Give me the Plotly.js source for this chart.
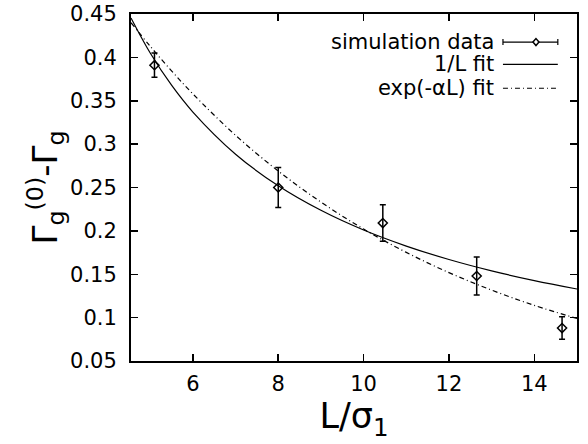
<!DOCTYPE html>
<html>
<head>
<meta charset="utf-8">
<script src="https://cdn.plot.ly/plotly-3.0.1.min.js"></script>
<style>html,body{margin:0;padding:0;background:#fff;}#chart{width:588px;height:444px;}</style>
</head>
<body>
<div id="chart"></div>
<script>
// Simulation data
const L_data = [5.1, 8.0, 10.45, 12.65, 14.65];
const gamma_data = [0.391, 0.250, 0.209, 0.148, 0.088];
const gamma_err = [0.014, 0.023, 0.021, 0.022, 0.013];

// Fit curves
const L_fit = [4.55, 5, 5.5, 6, 7, 8, 9, 10, 11, 12, 13, 14, 15];
const fit_invL = [0.4454, 0.405, 0.3679, 0.337, 0.2884, 0.252, 0.2237, 0.201, 0.1825, 0.167, 0.1539, 0.1427, 0.133];
const fit_exp = [0.440, 0.4128, 0.3844, 0.3579, 0.3102, 0.269, 0.2332, 0.2021, 0.1752, 0.1519, 0.1317, 0.1141, 0.0990];

const legendNames = ['simulation data', '1/L fit', 'exp(-\u03b1L) fit'];
const xTitle = 'L/\u03c3<sub>1</sub>';
const yTitle = '\u0393<sub>g</sub><sup>(0)</sup>-\u0393<sub>g</sub>';

const FONT = 'DejaVu Sans, Liberation Sans, sans-serif';
const DASHDOT = '5px,3px,1px,3px';

const traces = [
  {
    x: L_fit, y: fit_invL, mode: 'lines', type: 'scatter', name: legendNames[1],
    line: {color: '#000', width: 1.2, shape: 'spline'}, showlegend: false
  },
  {
    x: L_fit, y: fit_exp, mode: 'lines', type: 'scatter', name: legendNames[2],
    line: {color: '#000', width: 1.2, dash: DASHDOT, shape: 'spline'}, showlegend: false
  },
  {
    x: L_data, y: gamma_data, mode: 'markers', type: 'scatter', name: legendNames[0],
    marker: {symbol: 'diamond-open', size: 7, color: '#000', line: {width: 1.5, color: '#000'}},
    error_y: {type: 'data', array: gamma_err, visible: true, color: '#000', thickness: 1.5, width: 3},
    showlegend: false
  }
];

// custom legend (text right, sample to the right, like gnuplot)
const legY = [0.919, 0.855, 0.786];
const textX = 0.818, s0 = 0.834, s1 = 0.957, dmx = 0.908;
const annotations = legendNames.map((n, i) => ({
  xref: 'paper', yref: 'paper', x: textX, y: legY[i], xanchor: 'right', yanchor: 'middle',
  text: n, showarrow: false, font: {family: FONT, size: 21, color: '#000'}
}));
const dx = 3 / 446, dy = 3.5 / 347.5, cap = 3 / 347.5;
const shapes = [
  {type: 'line', xref: 'paper', yref: 'paper', x0: s0, x1: s1, y0: legY[0], y1: legY[0], line: {color: '#000', width: 1.2}},
  {type: 'line', xref: 'paper', yref: 'paper', x0: s0, x1: s0, y0: legY[0] - cap, y1: legY[0] + cap, line: {color: '#000', width: 1.2}},
  {type: 'line', xref: 'paper', yref: 'paper', x0: s1, x1: s1, y0: legY[0] - cap, y1: legY[0] + cap, line: {color: '#000', width: 1.2}},
  {type: 'path', xref: 'paper', yref: 'paper',
   path: `M ${dmx - dx} ${legY[0]} L ${dmx} ${legY[0] + dy} L ${dmx + dx} ${legY[0]} L ${dmx} ${legY[0] - dy} Z`,
   fillcolor: '#fff', line: {color: '#000', width: 1.5}},
  {type: 'line', xref: 'paper', yref: 'paper', x0: s0, x1: s1, y0: legY[1], y1: legY[1], line: {color: '#000', width: 1.2}},
  {type: 'line', xref: 'paper', yref: 'paper', x0: s0, x1: s1, y0: legY[2], y1: legY[2], line: {color: '#000', width: 1.2, dash: DASHDOT}}
];

const axisCommon = {
  showgrid: false, zeroline: false, showline: true, linecolor: '#000', linewidth: 2,
  mirror: 'ticks', ticks: 'inside', ticklen: 7, tickwidth: 1.5, tickcolor: '#000',
  tickfont: {family: FONT, size: 21, color: '#000'}
};

const layout = {
  width: 588, height: 444,
  margin: {l: 131, r: 11, t: 14, b: 83},
  paper_bgcolor: '#fff', plot_bgcolor: '#fff',
  showlegend: false,
  xaxis: Object.assign({}, axisCommon, {
    range: [4.55, 15], tickvals: [6, 8, 10, 12, 14], ticktext: ['6', '8', '10', '12', '14'],
    ticklabelstandoff: 3,
    title: {text: xTitle, font: {family: FONT, size: 35, color: '#000'}, standoff: 4}
  }),
  yaxis: Object.assign({}, axisCommon, {
    range: [0.05, 0.45], tickvals: [0.05, 0.1, 0.15, 0.2, 0.25, 0.3, 0.35, 0.4, 0.45],
    ticktext: ['0.05', '0.1', '0.15', '0.2', '0.25', '0.3', '0.35', '0.4', '0.45'],
    ticklabelstandoff: 8,
    title: {text: yTitle, font: {family: FONT, size: 34, color: '#000'}, standoff: 2}
  }),
  annotations: annotations,
  shapes: shapes
};

Plotly.newPlot('chart', traces, layout, {displayModeBar: false, staticPlot: true});
</script>
</body>
</html>
